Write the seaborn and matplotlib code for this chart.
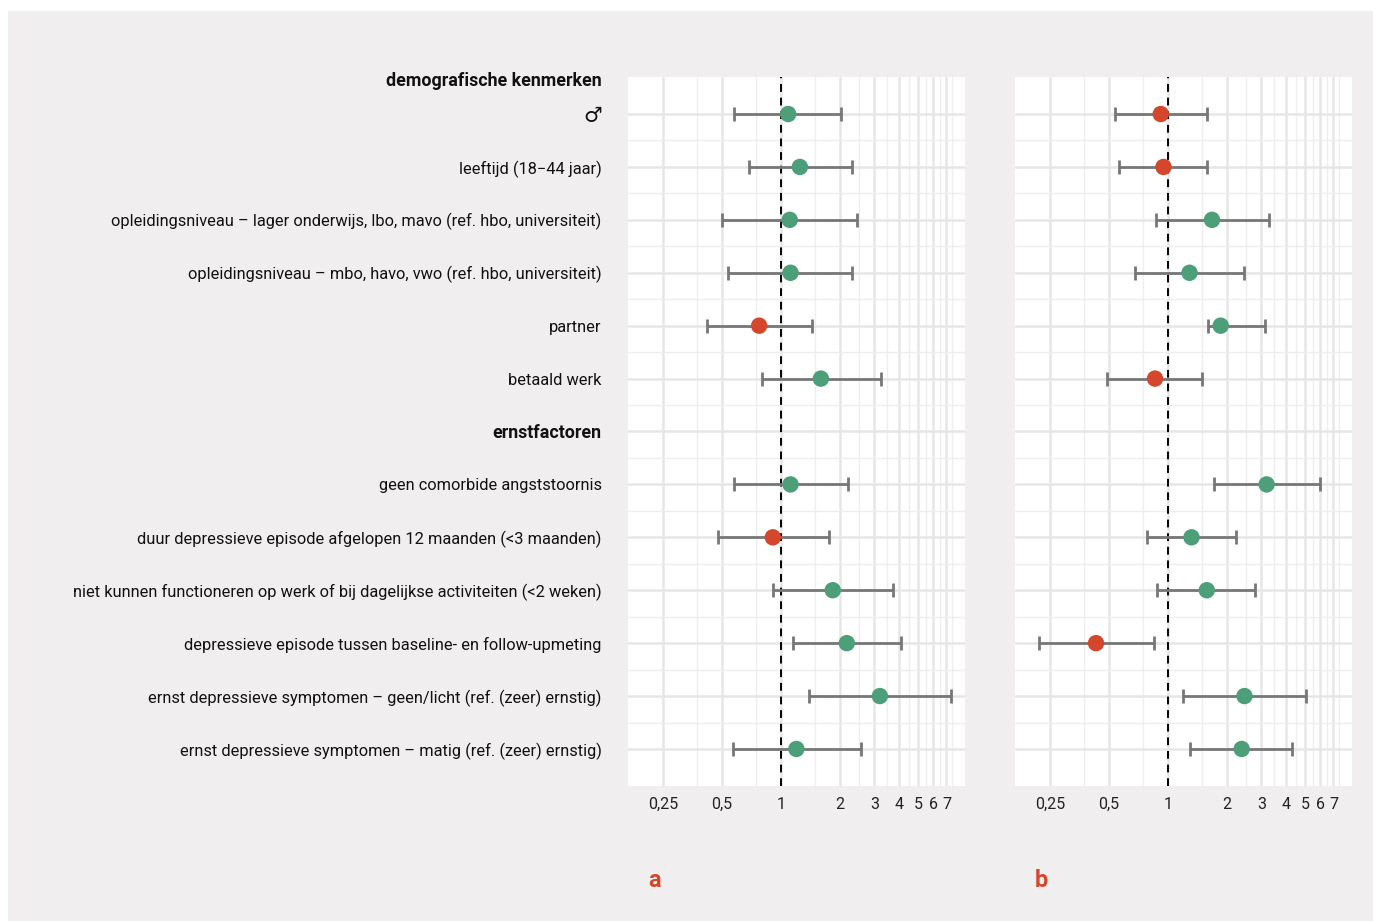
import numpy as np
import pandas as pd
import matplotlib
matplotlib.use('Agg')
import matplotlib.pyplot as plt
from matplotlib.patches import Rectangle
import seaborn as sns

## labels of the rows (top to bottom), 'ernstfactoren' = header row without estimate
labels = ['\u2642',
          'leeftijd (18\u221244 jaar)',
          'opleidingsniveau \u2013 lager onderwijs, lbo, mavo (ref. hbo, universiteit)',
          'opleidingsniveau \u2013 mbo, havo, vwo (ref. hbo, universiteit)',
          'partner',
          'betaald werk',
          'ernstfactoren',
          'geen comorbide angststoornis',
          'duur depressieve episode afgelopen 12 maanden (<3 maanden)',
          'niet kunnen functioneren op werk of bij dagelijkse activiteiten (<2 weken)',
          'depressieve episode tussen baseline- en follow-upmeting',
          'ernst depressieve symptomen \u2013 geen/licht (ref. (zeer) ernstig)',
          'ernst depressieve symptomen \u2013 matig (ref. (zeer) ernstig)']
headers = ['demografische kenmerken', 'ernstfactoren']

# panel a
or_a = [1.09, 1.25, 1.11, 1.12, 0.775, 1.60, np.nan, 1.12, 0.91, 1.84, 2.17, 3.20, 1.20]
lo_a = [0.58, 0.69, 0.50, 0.54, 0.42, 0.80, np.nan, 0.58, 0.48, 0.91, 1.155, 1.40, 0.57]
hi_a = [2.02, 2.31, 2.45, 2.32, 1.45, 3.24, np.nan, 2.19, 1.76, 3.74, 4.12, 7.34, 2.57]

# panel b
or_b = [0.92, 0.95, 1.68, 1.29, 1.86, 0.86, np.nan, 3.19, 1.32, 1.58, 0.43, 2.46, 2.38]
lo_b = [0.54, 0.56, 0.87, 0.68, 1.60, 0.49, np.nan, 1.71, 0.785, 0.88, 0.22, 1.19, 1.30]
hi_b = [1.59, 1.59, 3.28, 2.45, 3.14, 1.50, np.nan, 5.97, 2.23, 2.80, 0.85, 5.08, 4.31]

xticks = [0.25, 0.5, 1, 2, 3, 4, 5, 6, 7]
xticklabels = ['0,25', '0,5', '1', '2', '3', '4', '5', '6', '7']
xminor = [0.375, 0.75, 1.5, 2.5, 3.5, 4.5, 5.5, 6.5, 7.5]

GREEN = '#4c9f78'
RED = '#d5472c'
BG = '#f0eeef'

sns.set_theme(style='white')
plt.rcParams['font.family'] = ['Roboto', 'DejaVu Sans']

fig = plt.figure(figsize=(13.73, 9.21), dpi=100, facecolor='white')
fig.patches.append(Rectangle((8/1373, 0), 1, 1 - 11/921, transform=fig.transFigure,
                             facecolor=BG, edgecolor='none', zorder=-10))

ax_a = fig.add_axes([628/1373, 1 - 786/921, 337/1373, 709/921])
ax_b = fig.add_axes([1015/1373, 1 - 786/921, 337/1373, 709/921])

def draw_panel(ax, est, lo, hi):
    df = pd.DataFrame({'row': np.arange(len(labels)), 'OR': est, 'lo': lo, 'hi': hi}).dropna()
    df['richting'] = np.where(df['OR'] < 1, 'neg', 'pos')
    ax.set_facecolor('white')
    ax.set_xscale('log', base=2)
    ax.set_xlim(0.166, 8.7)
    ax.set_ylim(12.7, -0.7)
    # grid lines
    for v in xticks:
        ax.axvline(v, color='#e6e6e6', lw=1.8, zorder=0)
    for v in xminor:
        ax.axvline(v, color='#eeeeee', lw=1.0, zorder=0)
    for r in range(len(labels)):
        ax.axhline(r, color='#e6e6e6', lw=1.8, zorder=0)
    for r in np.arange(0.5, len(labels) - 1, 1):
        ax.axhline(r, color='#eeeeee', lw=1.0, zorder=0)
    ax.axvline(1, color='black', ls=(0, (4, 3)), lw=1.4, zorder=1)
    ax.errorbar(df['OR'], df['row'], xerr=[df['OR'] - df['lo'], df['hi'] - df['OR']],
                fmt='none', ecolor='#777777', elinewidth=2, capsize=5, capthick=2, zorder=2)
    sns.scatterplot(data=df, x='OR', y='row', hue='richting', palette={'neg': RED, 'pos': GREEN},
                    s=140, edgecolor='none', legend=False, ax=ax, zorder=3)
    ax.set_xticks(xticks)
    ax.set_xticklabels(xticklabels)
    ax.xaxis.set_minor_locator(matplotlib.ticker.NullLocator())
    ax.tick_params(axis='x', length=0, pad=8, labelsize=11.5, labelcolor='#222222')
    ax.set_xlabel('')
    ax.set_ylabel('')
    for s in ax.spines.values():
        s.set_visible(False)

draw_panel(ax_a, or_a, lo_a, hi_a)
draw_panel(ax_b, or_b, lo_b, hi_b)

ax_a.set_yticks([-0.66] + list(range(len(labels))))
ax_a.set_yticklabels([headers[0]] + labels)
ax_a.tick_params(axis='y', length=0, pad=19, labelsize=11.8, labelcolor='#111111')
for t in ax_a.get_yticklabels():
    if t.get_text() in headers:
        t.set_fontweight('bold')
        t.set_fontsize(12.8)
    elif t.get_text() == '\u2642':
        t.set_fontsize(15)
ax_b.set_yticks([])

fig.text(655/1373, 1 - 880/921, 'a', color=RED, fontsize=17, fontweight='bold', ha='center', va='center')
fig.text(1041/1373, 1 - 880/921, 'b', color=RED, fontsize=17, fontweight='bold', ha='center', va='center')

fig.savefig('out.png', dpi=100, facecolor=fig.get_facecolor())
